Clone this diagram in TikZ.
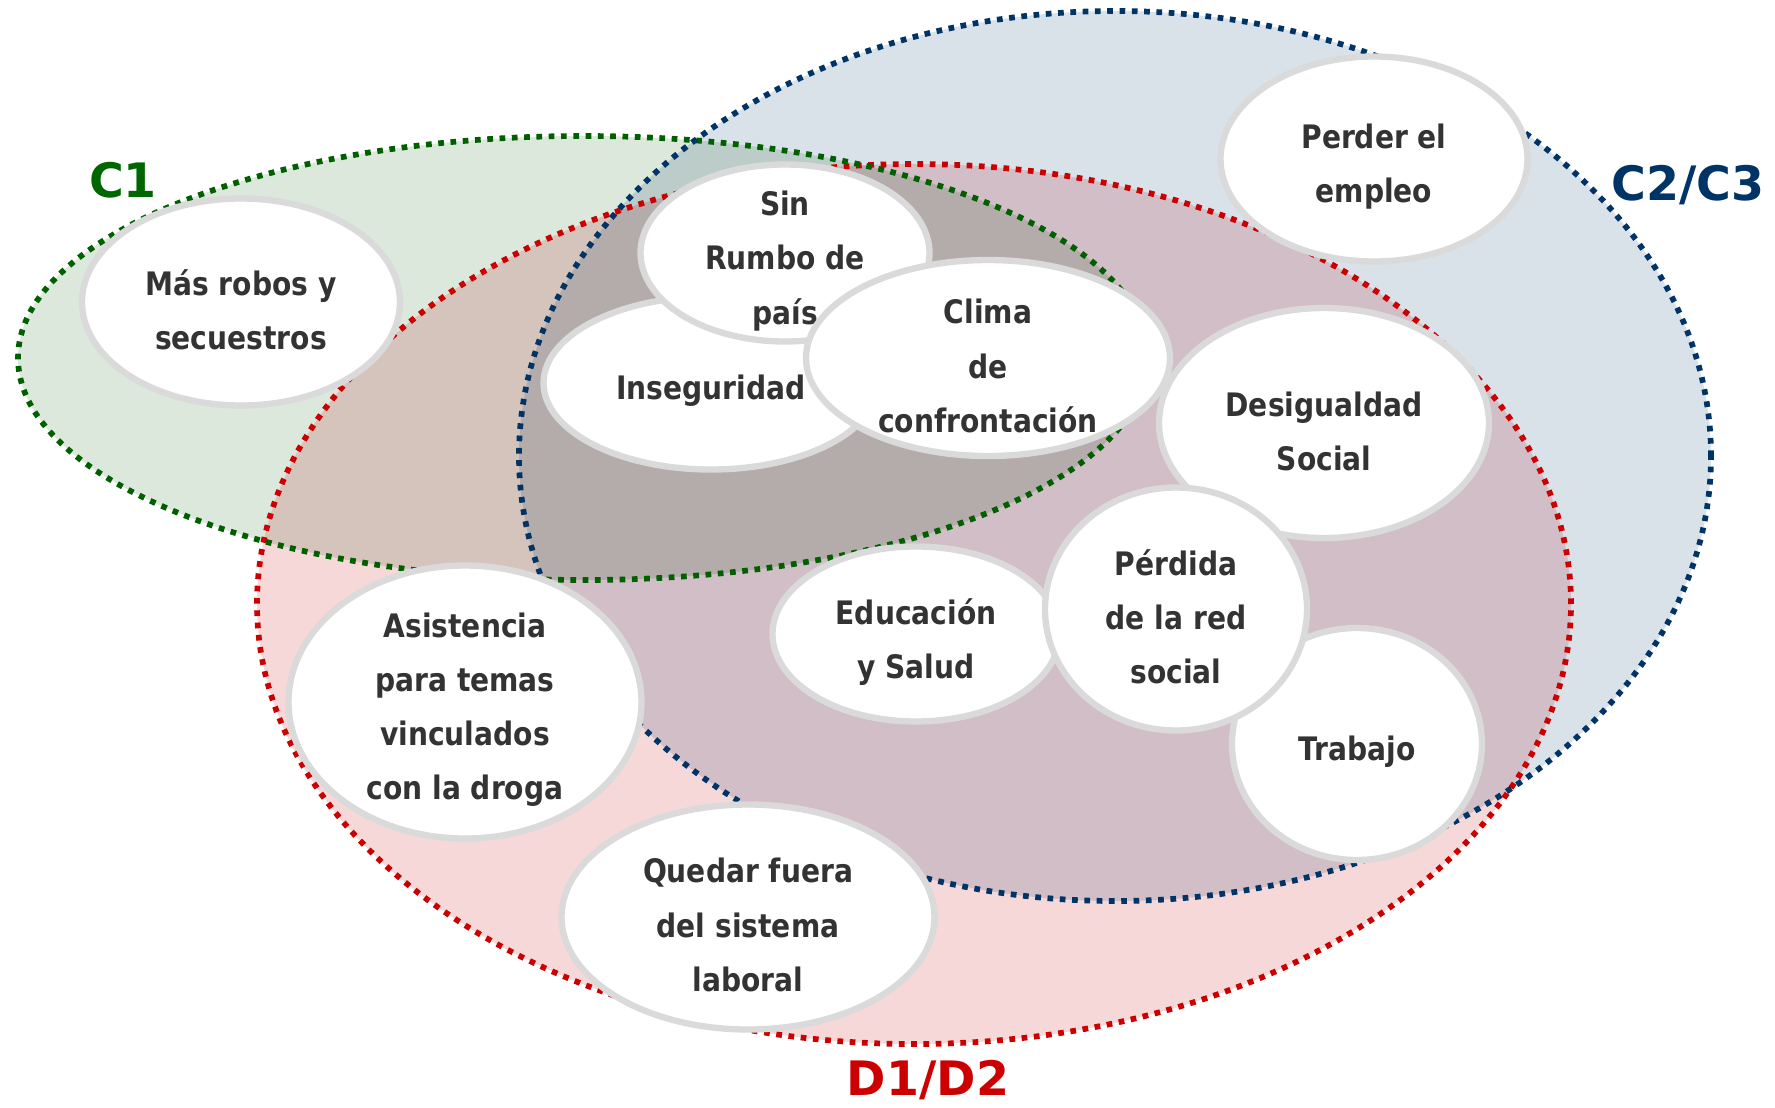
\documentclass[tikz,border=0pt]{standalone}
\usepackage{fontspec}
\setmainfont{DejaVu Sans}
\newfontfamily\bubblefont{DejaVu Sans}[FakeStretch=0.87]
\usepackage{xcolor}
\usepackage{tikz}
\usetikzlibrary{shapes.geometric}
\pgfdeclarelayer{bg}
\pgfsetlayers{bg,main}

\definecolor{fillgreen}{RGB}{220,232,220}
\definecolor{fillblue}{RGB}{217,225,233}
\definecolor{fillred}{RGB}{246,216,217}
\definecolor{linegreen}{RGB}{0,96,0}
\definecolor{lineblue}{RGB}{0,51,102}
\definecolor{linered}{RGB}{204,0,0}
\definecolor{labgreen}{RGB}{0,102,0}
\definecolor{labblue}{RGB}{0,51,102}
\definecolor{labred}{RGB}{204,0,0}
\definecolor{bubbleline}{RGB}{218,218,218}
\definecolor{textgray}{RGB}{51,51,51}

\begin{document}
\begin{tikzpicture}[
		bubble/.style={ellipse, draw=bubbleline, line width=1.8pt, fill=white, inner sep=0pt},
		bubtext/.style={align=center, text=textgray, font=\bubblefont\bfseries\fontsize{9.2}{15.4}\selectfont, yshift=-0.08cm},
		setline/.style={line width=0.057cm, dash pattern=on 0.057cm off 0.066cm},
		setlabel/.style={font=\bfseries\fontsize{13.5}{15}\selectfont}
	]
			\useasboundingbox (0,0) rectangle (17.75,11.07);

			\node[bubble, minimum width=3.18cm, minimum height=2.07cm] (masrobos) at (2.41,8.05) {};
			\node[bubtext] (masrobos-t) at (masrobos) {Más robos y\\secuestros};
			\node[bubble, minimum width=3.35cm, minimum height=1.73cm] (inseg) at (7.11,7.24) {};
			\node[bubtext] (inseg-t) at (inseg) {Inseguridad};
			\node[bubble, minimum width=2.89cm, minimum height=1.77cm] (rumbo) at (7.85,8.54) {};
			\node[bubtext] (rumbo-t) at (rumbo) {Sin\\Rumbo de\\país};
			\node[bubble, minimum width=3.64cm, minimum height=1.96cm] (clima) at (9.88,7.49) {};
			\node[bubtext] (clima-t) at (clima) {Clima\\de\\confrontación};
			\node[bubble, minimum width=3.07cm, minimum height=2.05cm] (perder) at (13.74,9.48) {};
			\node[bubtext] (perder-t) at (perder) {Perder el\\empleo};
			\node[bubble, minimum width=2.87cm, minimum height=1.75cm] (educ) at (9.16,4.73) {};
			\node[bubtext] (educ-t) at (educ) {Educación\\y Salud};
			\node[bubble, minimum width=2.50cm, minimum height=2.32cm] (trabajo) at (13.57,3.63) {};
			\node[bubtext] (trabajo-t) at (trabajo) {Trabajo};
			\node[bubble, minimum width=3.30cm, minimum height=2.30cm] (desig) at (13.24,6.84) {};
			\node[bubtext] (desig-t) at (desig) {Desigualdad\\Social};
			\node[bubble, minimum width=2.62cm, minimum height=2.43cm] (perdida) at (11.76,4.98) {};
			\node[bubtext] (perdida-t) at (perdida) {Pérdida\\de la red\\social};
			\node[bubble, minimum width=3.53cm, minimum height=2.73cm] (asist) at (4.65,4.05) {};
			\node[bubtext] (asist-t) at (asist) {Asistencia\\para temas\\vinculados\\con la droga};
			\node[bubble, minimum width=3.73cm, minimum height=2.25cm] (quedar) at (7.48,1.90) {};
			\node[bubtext] (quedar-t) at (quedar) {Quedar fuera\\del sistema\\laboral};

			\node[setlabel, text=labgreen] (labC1) at (1.23,9.27) {C1};
			\node[setlabel, text=labblue] (labC23) at (16.88,9.22) {C2/C3};
			\node[setlabel, text=labred] (labD12) at (9.28,0.27) {D1/D2};

			\begin{pgfonlayer}{bg}
				\fill[fillgreen, blend mode=multiply] (5.83,7.49) ellipse [x radius=5.65, y radius=2.22];
				\fill[fillblue, blend mode=multiply] (11.15,6.51) ellipse [x radius=5.96, y radius=4.45];
				\fill[fillred, blend mode=multiply] (9.14,5.03) ellipse [x radius=6.57, y radius=4.40];
				\draw[setline, linered] (9.14,5.03) ellipse [x radius=6.57, y radius=4.40];
				\draw[setline, linegreen] (5.83,7.49) ellipse [x radius=5.65, y radius=2.22];
				\draw[setline, lineblue] (11.15,6.51) ellipse [x radius=5.96, y radius=4.45];
			\end{pgfonlayer}

		\end{tikzpicture}
\end{document}
